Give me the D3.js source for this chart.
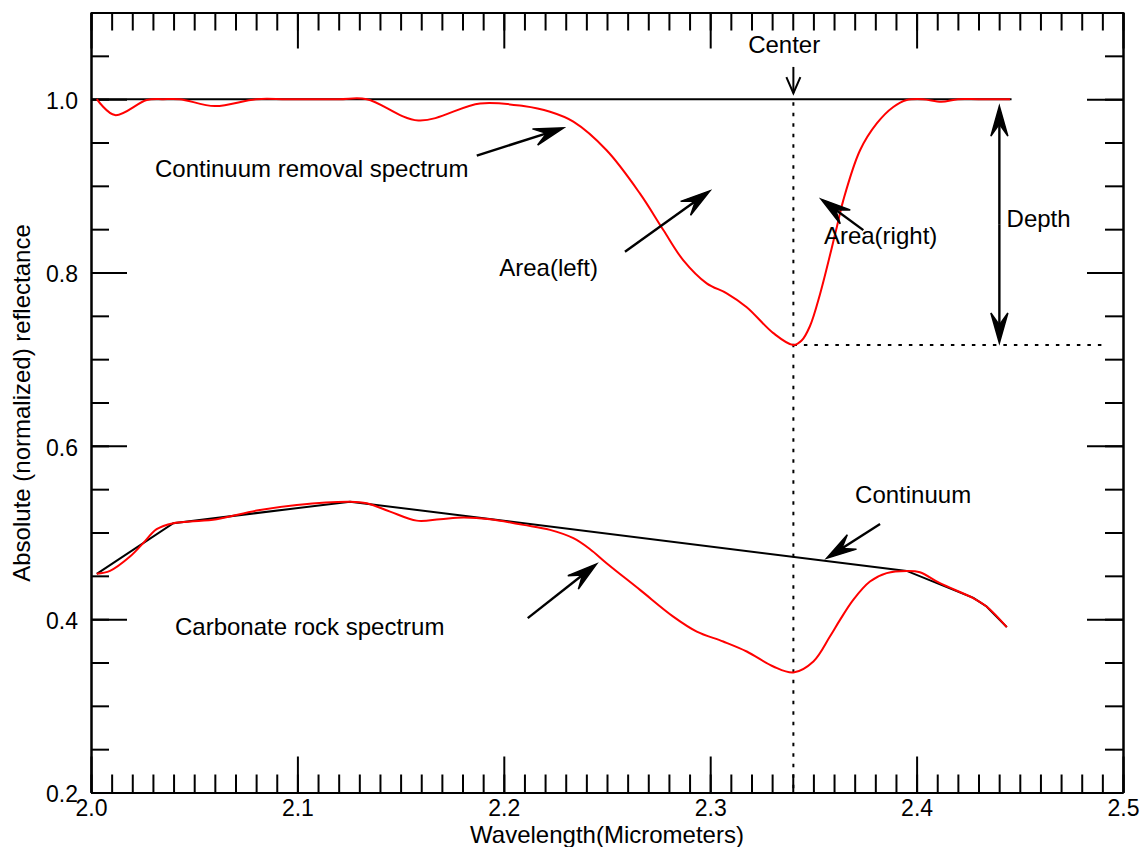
<!DOCTYPE html>
<html>
<head>
<meta charset="utf-8">
<script src="https://cdn.jsdelivr.net/npm/d3@7"></script>
<style>
  body { margin: 0; background: #fff; }
  svg text { font-family: "Liberation Sans", Arial, Helvetica, sans-serif; font-size: 24px; fill: #000; }
  svg .tick text { font-size: 23px; }
</style>
</head>
<body>
<svg id="chart" width="1142" height="847"></svg>
<script>
// continuum removed spectrum (red, top)
var crWavelength = [2.0028, 2.0116, 2.027, 2.035, 2.043, 2.060, 2.080, 2.095, 2.120, 2.1336,
                    2.1586, 2.1885, 2.2095, 2.2224, 2.2337, 2.2498, 2.266, 2.2773, 2.287, 2.2983,
                    2.308, 2.3177, 2.3306, 2.3403, 2.3443, 2.3483, 2.3532, 2.3613, 2.3645, 2.3726,
                    2.3807, 2.3887, 2.3952, 2.403, 2.412, 2.420, 2.430, 2.4453];
var crValues     = [1.0, 0.9816, 0.999, 1.0, 1.0, 0.992, 1.0, 1.0, 1.0, 1.0,
                    0.9754, 0.995, 0.992, 0.9854, 0.974, 0.941, 0.891, 0.849, 0.814, 0.7875,
                    0.776, 0.760, 0.730, 0.7163, 0.7215, 0.738, 0.775, 0.852, 0.8835, 0.941,
                    0.972, 0.991, 0.999, 1.0, 0.997, 1.0, 1.0, 1.0];

// carbonate rock spectrum (red, bottom)
var rockWavelength = [2.0028, 2.0092, 2.0189, 2.0253, 2.0318, 2.0399, 2.048, 2.0609, 2.0803, 2.0997,
                      2.1255, 2.1336, 2.1449, 2.1578, 2.1691, 2.1804, 2.1933, 2.2095, 2.2224, 2.2337,
                      2.2418, 2.2498, 2.266, 2.2821, 2.2935, 2.3063, 2.3177, 2.3306, 2.3403, 2.35,
                      2.358, 2.3629, 2.3693, 2.3774, 2.3855, 2.3952, 2.4016, 2.4113, 2.4275, 2.4339,
                      2.4437];
var rockValues     = [0.4523, 0.4557, 0.4722, 0.4877, 0.5038, 0.5107, 0.5126, 0.5153, 0.5253, 0.5318,
                      0.5356, 0.5338, 0.5241, 0.5137, 0.5153, 0.5172, 0.5153, 0.5088, 0.503, 0.4934,
                      0.4807, 0.4646, 0.4338, 0.403, 0.3857, 0.3742, 0.3627, 0.3454, 0.3385, 0.3512,
                      0.38, 0.3992, 0.4223, 0.4434, 0.4531, 0.4557, 0.4542, 0.4415, 0.4242, 0.4146,
                      0.3908];

// continuum (convex hull) of the rock spectrum
var hullWavelength = [2.0028, 2.0399, 2.1255, 2.3952, 2.4275, 2.4339, 2.4437];
var hullValues     = [0.4523, 0.5107, 0.5356, 0.4557, 0.4245, 0.4146, 0.3908];

// continuum of the removed spectrum
var flatWavelength = [2.0, 2.446];
var flatValues     = [1.0, 1.0];

var bandCenter = 2.3403;
var bandMin = 0.7163;

var xTicks = [2.0, 2.1, 2.2, 2.3, 2.4, 2.5];
var xTickLabels = ["2.0", "2.1", "2.2", "2.3", "2.4", "2.5"];
var yTicks = [0.2, 0.4, 0.6, 0.8, 1.0];
var yTickLabels = ["0.2", "0.4", "0.6", "0.8", "1.0"];

var svg = d3.select("#chart");
svg.append("rect").attr("width", 1142).attr("height", 847).attr("fill", "#fff");

var x = d3.scaleLinear().domain([2.0, 2.5]).range([91, 1123]);
var y = d3.scaleLinear().domain([0.2, 1.1]).range([792.5, 12.5]);

var xMinor = d3.range(0, 51).map(function(i){ return 2.0 + i * 0.01; });
var yMinor = d3.range(0, 19).map(function(i){ return 0.2 + i * 0.05; });

function styleAxis(g) {
  g.select(".domain").attr("stroke", "#000").attr("stroke-width", 2);
  g.selectAll(".tick line").attr("stroke", "#000").attr("stroke-width", 2);
}

// minor ticks
svg.append("g").attr("transform", "translate(0,792.5)")
  .call(d3.axisBottom(x).tickValues(xMinor).tickFormat("").tickSize(-18).tickSizeOuter(0)).call(styleAxis);
svg.append("g").attr("transform", "translate(0,12.5)")
  .call(d3.axisTop(x).tickValues(xMinor).tickFormat("").tickSize(-18).tickSizeOuter(0)).call(styleAxis);
svg.append("g").attr("transform", "translate(91,0)")
  .call(d3.axisLeft(y).tickValues(yMinor).tickFormat("").tickSize(-18).tickSizeOuter(0)).call(styleAxis);
svg.append("g").attr("transform", "translate(1123,0)")
  .call(d3.axisRight(y).tickValues(yMinor).tickFormat("").tickSize(-18).tickSizeOuter(0)).call(styleAxis);

// major ticks
svg.append("g").attr("transform", "translate(0,792.5)")
  .call(d3.axisBottom(x).tickValues(xTicks).tickFormat(function(d, i){ return xTickLabels[i]; })
    .tickSize(-36).tickSizeOuter(0).tickPadding(7)).call(styleAxis);
svg.append("g").attr("transform", "translate(0,12.5)")
  .call(d3.axisTop(x).tickValues(xTicks).tickFormat("").tickSize(-36).tickSizeOuter(0)).call(styleAxis);
var yAxisG = svg.append("g").attr("transform", "translate(91,0)")
  .call(d3.axisLeft(y).tickValues(yTicks).tickFormat(function(d, i){ return yTickLabels[i]; })
    .tickSize(-36).tickSizeOuter(0).tickPadding(13)).call(styleAxis);
yAxisG.selectAll("text").attr("dy", "0.41em");
svg.append("g").attr("transform", "translate(1123,0)")
  .call(d3.axisRight(y).tickValues(yTicks).tickFormat("").tickSize(-36).tickSizeOuter(0)).call(styleAxis);

// axis titles
svg.append("text").attr("x", 607).attr("y", 843).attr("text-anchor", "middle")
  .text("Wavelength(Micrometers)");
svg.append("text").attr("transform", "translate(30,403) rotate(-90)").attr("text-anchor", "middle")
  .text("Absolute (normalized) reflectance");

// dotted guides
svg.append("line")
  .attr("x1", x(bandCenter)).attr("x2", x(bandCenter))
  .attr("y1", y(1.0) + 3).attr("y2", y(0.2))
  .attr("stroke", "#000").attr("stroke-width", 2).attr("stroke-dasharray", "3.5,7");
svg.append("line")
  .attr("x1", x(bandCenter)).attr("x2", x(2.4925))
  .attr("y1", y(bandMin)).attr("y2", y(bandMin))
  .attr("stroke", "#000").attr("stroke-width", 2).attr("stroke-dasharray", "3.5,7");

// curves
var line = d3.line().x(function(d){ return x(d[0]); }).y(function(d){ return y(d[1]); });
var smooth = d3.line().x(function(d){ return x(d[0]); }).y(function(d){ return y(d[1]); })
  .curve(d3.curveCatmullRom.alpha(0.5));

svg.append("path").datum(d3.zip(flatWavelength, flatValues))
  .attr("d", line).attr("fill", "none").attr("stroke", "#000").attr("stroke-width", 2);
svg.append("path").datum(d3.zip(hullWavelength, hullValues))
  .attr("d", line).attr("fill", "none").attr("stroke", "#000").attr("stroke-width", 2);
svg.append("path").datum(d3.zip(crWavelength, crValues))
  .attr("d", smooth).attr("fill", "none").attr("stroke", "#ff0000").attr("stroke-width", 2);
svg.append("path").datum(d3.zip(rockWavelength, rockValues))
  .attr("d", smooth).attr("fill", "none").attr("stroke", "#ff0000").attr("stroke-width", 2);

// arrows (tail -> tip, data units)
var arrows = [
  { x1: 2.1869, y1: 0.9349, x2: 2.2290, y2: 0.9669 },
  { x1: 2.2587, y1: 0.8239, x2: 2.2999, y2: 0.8943 },
  { x1: 2.3742, y1: 0.8489, x2: 2.3537, y2: 0.8847 },
  { x1: 2.2116, y1: 0.4012, x2: 2.2450, y2: 0.4638 },
  { x1: 2.3823, y1: 0.5099, x2: 2.3564, y2: 0.4704 },
  { x1: 2.4401, y1: 0.855, x2: 2.4401, y2: 0.992 },
  { x1: 2.4401, y1: 0.855, x2: 2.4401, y2: 0.7186 }
];

function headPoints(tip, tail, len, half) {
  var dx = tip[0] - tail[0], dy = tip[1] - tail[1], l = Math.hypot(dx, dy);
  var ux = dx / l, uy = dy / l, nx = -uy, ny = ux;
  return {
    b1: [tip[0] - ux * len + nx * half, tip[1] - uy * len + ny * half],
    b2: [tip[0] - ux * len - nx * half, tip[1] - uy * len - ny * half],
    notch: [tip[0] - ux * len * 0.6, tip[1] - uy * len * 0.6]
  };
}

arrows.forEach(function(a) {
  var tail = [x(a.x1), y(a.y1)], tip = [x(a.x2), y(a.y2)];
  var h = headPoints(tip, tail, 30, 8.5);
  svg.append("line").attr("x1", tail[0]).attr("y1", tail[1])
    .attr("x2", h.notch[0]).attr("y2", h.notch[1])
    .attr("stroke", "#000").attr("stroke-width", 2.4);
  svg.append("path")
    .attr("d", "M" + tip + "L" + h.b1 + "L" + h.notch + "L" + h.b2 + "Z")
    .attr("fill", "#000").attr("stroke", "#000").attr("stroke-width", 1.5).attr("stroke-linejoin", "miter");
});

// small open arrow under "Center"
var cTail = [x(bandCenter), y(1.0372)], cTip = [x(bandCenter), y(1.0069)];
var ch = headPoints(cTip, cTail, 16, 7);
svg.append("line").attr("x1", cTail[0]).attr("y1", cTail[1]).attr("x2", cTip[0]).attr("y2", cTip[1])
  .attr("stroke", "#000").attr("stroke-width", 2);
svg.append("path").attr("d", "M" + ch.b1 + "L" + cTip + "L" + ch.b2)
  .attr("fill", "none").attr("stroke", "#000").attr("stroke-width", 2);

// labels
var labels = [
  { text: "Continuum removal spectrum", x: 2.031, y: 0.910 },
  { text: "Area(left)", x: 2.1978, y: 0.7959 },
  { text: "Area(right)", x: 2.3551, y: 0.8324 },
  { text: "Depth", x: 2.4436, y: 0.8527 },
  { text: "Center", x: 2.3184, y: 1.0534 },
  { text: "Continuum", x: 2.3702, y: 0.5345 },
  { text: "Carbonate rock spectrum", x: 2.0407, y: 0.3819 }
];
svg.selectAll("text.note").data(labels).enter().append("text")
  .attr("class", "note")
  .attr("x", function(d){ return x(d.x); })
  .attr("y", function(d){ return y(d.y); })
  .text(function(d){ return d.text; });
</script>
</body>
</html>
